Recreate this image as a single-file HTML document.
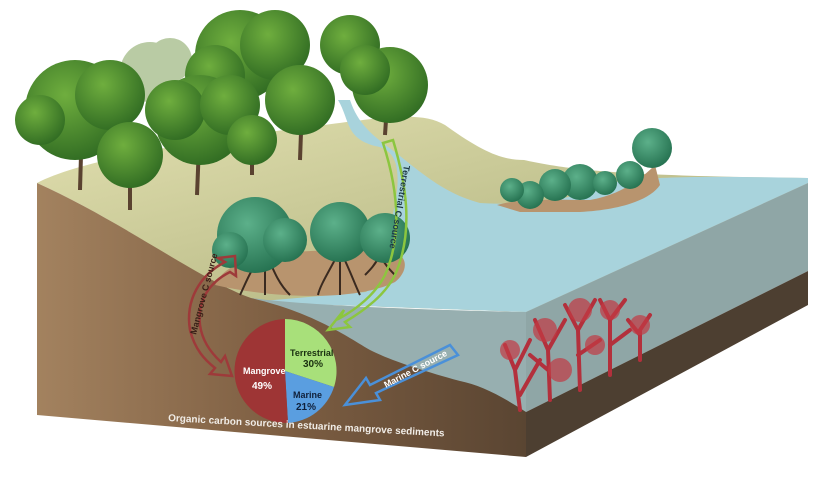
<!DOCTYPE html>
<html><head><meta charset="utf-8"><style>
html,body{margin:0;padding:0;background:#fff;}
svg{display:block;}
text{font-family:"Liberation Sans",sans-serif;font-weight:bold;}
</style></head><body>
<svg width="817" height="501" viewBox="0 0 817 501" xmlns="http://www.w3.org/2000/svg">
<defs>
<linearGradient id="soil" x1="0" y1="0" x2="1" y2="0">
<stop offset="0" stop-color="#a3825f"/><stop offset="0.5" stop-color="#7d5e42"/><stop offset="1" stop-color="#5a4532"/></linearGradient>
<linearGradient id="land" x1="0" y1="0" x2="1" y2="1">
<stop offset="0" stop-color="#e2e0b0"/><stop offset="0.6" stop-color="#bfc08d"/><stop offset="1" stop-color="#aeb27e"/></linearGradient>
<radialGradient id="tree" cx="0.4" cy="0.35" r="0.7"><stop offset="0" stop-color="#6fae3e"/><stop offset="1" stop-color="#2f6a22"/></radialGradient>
<radialGradient id="mang" cx="0.4" cy="0.35" r="0.7"><stop offset="0" stop-color="#5cb08a"/><stop offset="1" stop-color="#24704f"/></radialGradient>
</defs>
<path d="M37,183 C80,160 200,140 300,128 C380,118 420,110 445,125 C480,150 500,160 524,160 C570,170 620,176 808,178 L808,183 L526,312 L251,302 C200,280 120,220 37,183 Z" fill="url(#land)"/>
<path d="M338,100 C350,120 345,138 375,146 C400,150 400,175 395,205 C385,240 400,270 366,292 L251,302 L526,312 L808,183 L808,178 C700,176 640,176 600,185 C560,205 520,205 480,203 C450,195 430,180 405,160 C380,140 360,130 350,100 Z" fill="#a8d3dc"/>
<path d="M37,183 C120,220 200,280 251,298 C320,310 430,312 526,312 L526,457 L37,415 Z" fill="url(#soil)"/>
<path d="M251,298 C300,305 420,310 526,312 L526,412 C500,395 480,385 460,381 C420,370 390,360 370,350 C340,332 310,312 251,298 Z" fill="#97afb0"/>
<path d="M526,312 L808,183 L808,271 L526,412 Z" fill="#8fa6a6"/>
<path d="M526,412 L808,271 L808,305 L526,457 Z" fill="#4d3f31"/>
<path d="M215,285 C230,250 300,250 380,250 C410,250 410,270 395,282 C360,300 280,300 215,285 Z" fill="#b8946e"/>
<path d="M497,205 C520,198 560,200 590,200 C620,195 640,180 655,165 L660,185 C650,200 620,210 580,212 L520,212 Z" fill="#b8946e"/>
<g fill="#a8bf8e" opacity="0.8"><circle cx="150" cy="72" r="30"/><circle cx="170" cy="60" r="22"/></g>
<g stroke="#5a4230" stroke-width="4" fill="none">
<path d="M80,190 L82,120"/><path d="M197,195 L200,120"/><path d="M130,210 L130,160"/><path d="M300,160 L302,105"/><path d="M385,135 L388,90"/><path d="M250,110 L250,70"/><path d="M252,175 L252,140"/>
</g>
<g fill="url(#tree)">
<circle cx="240" cy="55" r="45"/><circle cx="275" cy="45" r="35"/><circle cx="215" cy="75" r="30"/>
<circle cx="350" cy="45" r="30"/><circle cx="390" cy="85" r="38"/><circle cx="365" cy="70" r="25"/>
<circle cx="75" cy="110" r="50"/><circle cx="110" cy="95" r="35"/><circle cx="40" cy="120" r="25"/>
<circle cx="200" cy="120" r="45"/><circle cx="175" cy="110" r="30"/><circle cx="230" cy="105" r="30"/>
<circle cx="300" cy="100" r="35"/><circle cx="130" cy="155" r="33"/><circle cx="252" cy="140" r="25"/>
</g>
<g stroke="#3a2a20" stroke-width="2" fill="none">
<path d="M265,250 C250,270 245,285 240,295 M265,250 C275,275 280,285 290,295 M265,250 L265,295"/>
<path d="M340,250 C330,270 320,285 318,295 M340,250 C350,270 355,285 360,295 M340,250 L340,295"/>
<path d="M380,255 C375,265 370,270 365,275 M380,255 C385,265 390,270 395,275"/>
</g>
<g fill="url(#mang)">
<circle cx="255" cy="235" r="38"/><circle cx="230" cy="250" r="18"/><circle cx="285" cy="240" r="22"/>
<circle cx="340" cy="232" r="30"/><circle cx="385" cy="238" r="25"/>
<circle cx="652" cy="148" r="20"/><circle cx="630" cy="175" r="14"/><circle cx="580" cy="182" r="18"/><circle cx="555" cy="185" r="16"/><circle cx="530" cy="195" r="14"/><circle cx="512" cy="190" r="12"/><circle cx="605" cy="183" r="12"/>
</g>
<g stroke="#b3303c" stroke-width="4" fill="none" stroke-linecap="round">
<path d="M520,410 L515,370 L505,345 M515,370 L530,340 M520,395 L540,360"/>
<path d="M550,400 L548,350 L535,320 M548,350 L565,320 M548,370 L530,355"/>
<path d="M580,390 L578,330 L565,305 M578,330 L595,300 M578,355 L600,340"/>
<path d="M610,375 L610,320 L600,300 M610,320 L625,300 M610,345 L630,330"/>
<path d="M640,360 L640,330 L650,315 M640,335 L628,320"/>
</g>
<g fill="#c23a44" opacity="0.7"><circle cx="510" cy="350" r="10"/><circle cx="545" cy="330" r="12"/><circle cx="580" cy="310" r="12"/><circle cx="610" cy="310" r="10"/><circle cx="640" cy="325" r="10"/><circle cx="560" cy="370" r="12"/><circle cx="595" cy="345" r="10"/></g>
<path d="M383,143 C395,180 405,230 385,275 C375,295 355,310 340,318 L344,310 L328,330 L350,327 L345,322 C365,310 385,295 395,275 C415,230 405,180 393,140 Z" fill="none" stroke="#8cc63f" stroke-width="2.5"/>
<path d="M225,262 C200,275 185,300 190,330 C195,350 205,360 215,368 L210,374 L232,376 L225,356 L221,362 C210,352 202,340 200,325 C197,300 210,282 230,272 L236,276 L235,256 L218,258 Z" fill="none" stroke="#9e3a3a" stroke-width="2.5"/>
<path d="M450,345 L370,385 L366,378 L345,405 L380,400 L376,393 L458,355 Z" fill="none" stroke="#4a90d9" stroke-width="2.5"/>
<text transform="translate(404,165) rotate(100)" font-size="9" fill="#1f3a45">Terrestrial C source</text>
<text transform="translate(196,335) rotate(-75)" font-size="9" fill="#3a2018">Mangrove C source</text>
<text transform="translate(386,388) rotate(-28)" font-size="9" fill="#fff">Marine C source</text>
<path d="M285,371 L285,319 A52,52 0 0 1 334,387 Z" fill="#a8e07a"/>
<path d="M285,371 L334,387 A52,52 0 0 1 288,423 Z" fill="#5a9ee0"/>
<path d="M285,371 L288,423 A52,52 0 0 1 285,319 Z" fill="#9e3535"/>
<text x="290" y="356" font-size="9" fill="#1a3010">Terrestrial</text>
<text x="303" y="367" font-size="10" fill="#1a3010">30%</text>
<text x="293" y="398" font-size="9" fill="#10203a">Marine</text>
<text x="296" y="410" font-size="10" fill="#10203a">21%</text>
<text x="243" y="374" font-size="9" fill="#fff">Mangrove</text>
<text x="252" y="389" font-size="10" fill="#fff">49%</text>
<text transform="translate(168,421) rotate(3.2)" font-size="10" fill="#f0ece6">Organic carbon sources in estuarine mangrove sediments</text>
</svg>
</body></html>
